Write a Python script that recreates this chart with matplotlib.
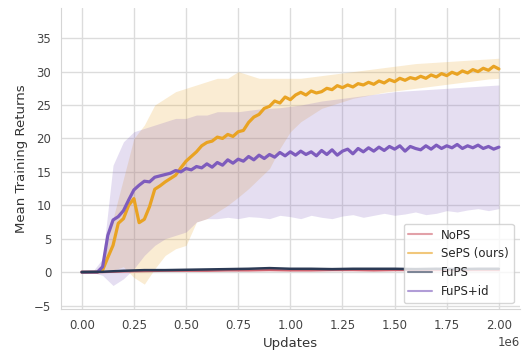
import matplotlib
matplotlib.use("Agg")
import matplotlib.pyplot as plt
import seaborn as sns
import numpy as np

# x positions (in units of 1e6 updates) for the mean curves of SePS / FuPS+id
steps_fine = [0.000, 0.025, 0.050, 0.075, 0.100, 0.125, 0.150, 0.175, 0.200, 0.225,
              0.250, 0.275, 0.300, 0.325, 0.350, 0.375, 0.400, 0.425, 0.450, 0.475,
              0.500, 0.525, 0.550, 0.575, 0.600, 0.625, 0.650, 0.675, 0.700, 0.725,
              0.750, 0.775, 0.800, 0.825, 0.850, 0.875, 0.900, 0.925, 0.950, 0.975,
              1.000, 1.025, 1.050, 1.075, 1.100, 1.125, 1.150, 1.175, 1.200, 1.225,
              1.250, 1.275, 1.300, 1.325, 1.350, 1.375, 1.400, 1.425, 1.450, 1.475,
              1.500, 1.525, 1.550, 1.575, 1.600, 1.625, 1.650, 1.675, 1.700, 1.725,
              1.750, 1.775, 1.800, 1.825, 1.850, 1.875, 1.900, 1.925, 1.950, 1.975,
              2.000]

seps_mean = [0.0, 0.0, 0.0, 0.0, 0.3, 2.2, 4.0, 7.3, 8.0, 10.0,
             11.0, 7.4, 7.9, 9.8, 12.4, 12.9, 13.5, 14.0, 14.5, 15.6,
             16.6, 17.3, 18.0, 18.9, 19.4, 19.6, 20.2, 20.0, 20.6, 20.3,
             21.0, 21.2, 22.4, 23.2, 23.6, 24.5, 24.8, 25.6, 25.3, 26.2,
             25.8, 26.5, 26.9, 26.5, 27.1, 26.8, 27.0, 27.5, 27.3, 27.9,
             27.6, 28.0, 27.7, 28.2, 28.0, 28.4, 28.1, 28.6, 28.3, 28.8,
             28.5, 29.0, 28.7, 29.1, 28.9, 29.3, 29.0, 29.5, 29.2, 29.7,
             29.4, 29.9, 29.6, 30.1, 29.8, 30.3, 30.0, 30.5, 30.2, 30.8,
             30.4]

fupsid_mean = [0.0, 0.0, 0.0, 0.0, 0.8, 5.5, 7.8, 8.3, 9.2, 10.8,
               12.3, 13.0, 13.6, 13.5, 14.2, 14.4, 14.6, 14.8, 15.2, 15.0,
               15.5, 15.3, 15.8, 15.6, 16.2, 15.7, 16.4, 16.0, 16.8, 16.3,
               16.9, 16.6, 17.3, 16.8, 17.5, 17.0, 17.6, 17.2, 17.9, 17.4,
               18.0, 17.5, 18.1, 17.6, 18.0, 17.4, 18.2, 17.6, 18.3, 17.5,
               18.1, 18.4, 17.7, 18.5, 18.0, 18.6, 18.1, 18.7, 18.2, 18.8,
               18.4, 18.9, 18.1, 18.8, 18.5, 18.3, 18.9, 18.4, 19.0, 18.5,
               18.9, 18.6, 19.1, 18.5, 18.9, 18.6, 19.0, 18.5, 18.8, 18.4,
               18.7]

# near-zero baselines
steps_coarse = [0.0, 0.1, 0.2, 0.3, 0.4, 0.5, 0.6, 0.7, 0.8, 0.9, 1.0,
                1.1, 1.2, 1.3, 1.4, 1.5, 1.6, 1.7, 1.8, 1.9, 2.0]
fups_mean = [0.0, 0.05, 0.2, 0.3, 0.3, 0.35, 0.4, 0.45, 0.5, 0.6, 0.5,
             0.5, 0.45, 0.5, 0.5, 0.5, 0.45, 0.5, 0.45, 0.5, 0.5]
nops_mean = [0.0, 0.0, 0.1, 0.15, 0.2, 0.2, 0.2, 0.25, 0.25, 0.3, 0.25,
             0.25, 0.3, 0.3, 0.25, 0.3, 0.3, 0.3, 0.3, 0.3, 0.3]

# shaded spread
steps_band = [0.00, 0.05, 0.10, 0.15, 0.20, 0.25, 0.30, 0.35, 0.40, 0.45,
              0.50, 0.55, 0.60, 0.65, 0.70, 0.75, 0.80, 0.85, 0.90, 0.95,
              1.00, 1.05, 1.10, 1.15, 1.20, 1.25, 1.30, 1.35, 1.40, 1.45,
              1.50, 1.55, 1.60, 1.65, 1.70, 1.75, 1.80, 1.85, 1.90, 1.95,
              2.00]
seps_low = [0.0, 0.0, 0.0, 0.3, 0.8, -0.8, -1.8, 0.5, 2.5, 3.5,
            4.0, 7.5, 8.0, 9.0, 10.0, 11.2, 12.5, 14.0, 15.5, 18.5,
            21.0, 22.5, 23.5, 24.5, 25.0, 25.5, 26.0, 26.3, 26.6, 26.9,
            27.1, 27.3, 27.5, 27.7, 27.9, 28.1, 28.3, 28.5, 28.7, 28.9,
            29.0]
seps_high = [0.0, 0.0, 1.0, 8.0, 14.0, 20.0, 22.0, 25.0, 26.0, 27.0,
             27.5, 28.0, 28.5, 29.0, 29.0, 30.0, 29.5, 29.0, 29.0, 29.0,
             29.0, 29.0, 29.2, 29.4, 29.6, 29.8, 30.0, 30.2, 30.4, 30.6,
             30.8, 31.0, 31.2, 31.3, 31.4, 31.5, 31.6, 31.7, 31.8, 31.9,
             32.0]
fupsid_low = [0.0, 0.0, -0.5, -2.0, -1.0, 0.5, 2.5, 4.0, 5.0, 5.5,
              6.0, 7.5, 8.0, 8.0, 8.2, 8.0, 8.3, 8.2, 8.0, 8.5,
              8.3, 8.0, 8.5, 8.2, 8.0, 8.4, 8.6, 8.2, 8.5, 8.8,
              8.5, 8.7, 9.0, 8.6, 8.8, 9.2, 9.0, 9.3, 9.5, 9.2,
              9.5]
fupsid_high = [0.0, 0.0, 2.0, 16.0, 19.5, 21.0, 21.5, 22.0, 22.5, 23.0,
               23.0, 23.5, 23.5, 24.0, 24.0, 24.0, 24.2, 24.4, 24.5, 24.6,
               24.8, 25.0, 25.3, 25.6, 25.8, 26.0, 26.2, 26.4, 26.6, 26.8,
               27.0, 27.1, 27.2, 27.3, 27.4, 27.5, 27.6, 27.7, 27.8, 27.9,
               28.0]

c_nops = "#d0626e"
c_seps = "#e9a323"
c_fups = "#2b3a55"
c_fupsid = "#7e5cbd"

sns.set_style("whitegrid")
plt.rcParams['font.family'] = ['DejaVu Sans']

fig = plt.figure(figsize=(5.25, 3.53), dpi=100)
ax = fig.add_axes([0.116, 0.125, 0.874, 0.852])

xf = np.array(steps_fine) * 1e6
xc = np.array(steps_coarse) * 1e6
xb = np.array(steps_band) * 1e6

ax.fill_between(xb, seps_low, seps_high, color=c_seps, alpha=0.2, lw=0)
ax.fill_between(xb, fupsid_low, fupsid_high, color=c_fupsid, alpha=0.2, lw=0)

ax.plot(xf, seps_mean, color=c_seps, lw=2.3, label="SePS (ours)")
ax.plot(xf, fupsid_mean, color=c_fupsid, lw=2.3, label="FuPS+id")
ax.plot(xc, nops_mean, color=c_nops, lw=1.6, label="NoPS")
ax.plot(xc, fups_mean, color=c_fups, lw=1.8, label="FuPS")

ax.set_xlim(-0.1e6, 2.1e6)
ax.set_ylim(-5.5, 39.5)
ax.xaxis.set_major_locator(plt.MultipleLocator(250000))
ax.set_yticks([-5, 0, 5, 10, 15, 20, 25, 30, 35])
ax.ticklabel_format(axis="x", style="sci", scilimits=(6, 6))
ax.tick_params(labelsize=8.5, colors="#444444")
ax.xaxis.get_offset_text().set_fontsize(8.5)
ax.xaxis.get_offset_text().set_color("#444444")
ax.set_xlabel("Updates", fontsize=9.5, color="#333333")
ax.set_ylabel("Mean Training Returns", fontsize=9.5, color="#333333")
ax.grid(True, color="#dcdcdc", lw=1.0)
sns.despine(ax=ax)
for s in ["left", "bottom"]:
    ax.spines[s].set_color("#d5d5d5")

handles, labels = ax.get_legend_handles_labels()
order = [labels.index(n) for n in ["NoPS", "SePS (ours)", "FuPS", "FuPS+id"]]
leg = ax.legend([handles[i] for i in order], [labels[i] for i in order],
                loc="lower right", fontsize=8.5, framealpha=0.8)
for line in leg.get_lines():
    line.set_alpha(0.6)
    line.set_linewidth(1.5)

fig.savefig("out.png", dpi=100)
